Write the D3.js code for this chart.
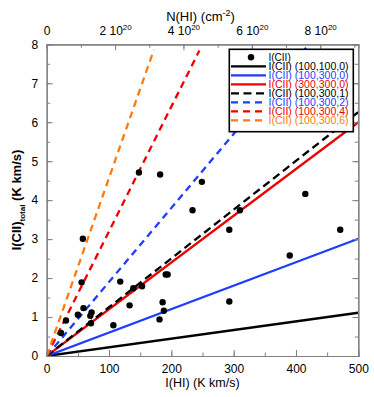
<!DOCTYPE html>
<html><head><meta charset="utf-8">
<script src="https://cdn.jsdelivr.net/npm/d3@7"></script>
<style>
html,body{margin:0;padding:0;background:#fff;}
text{font-family:"Liberation Sans",Arial,Helvetica,sans-serif;}
</style></head>
<body><svg id="c" width="374" height="397"></svg>
<script>
// ---- data ----
const obsIHI  = [23,31,50,56,58,59,70,72,71,107,118,133,139,153,148,182,181,186,188,191,194,234,249,293,293,310,390,415,471];
const obsICII = [0.59,0.91,1.06,1.89,3.01,1.23,1.03,1.12,0.84,0.79,1.91,1.30,1.74,1.79,4.71,4.66,0.94,1.38,1.16,2.09,2.09,3.74,4.47,3.24,1.40,3.74,2.58,4.16,3.24];

const modelLabels = ["(100,100,0)","(100,300,0)","(300,300,0)","(100,300,1)","(100,300,2)","(100,300,4)","(100,300,6)"];
const modelIHI  = [[0,500],[0,500],[0,500],[0,500],[0,500],[0,245],[0,172]];
const modelICII = [[0,1.11],[0,3.01],[0,6.0],[0,6.26],[0,9.5],[0,7.84],[0,7.86]];

const xTicks = [0,100,200,300,400,500];
const yTicks = [0,1,2,3,4,5,6,7,8];
const topTicks = [0,2e20,4e20,6e20,8e20];
const NHIperK = 1.823e18;

// ---- styles ----
const modelColor = ["#000","#1f3cff","#ee0000","#000","#1f3cff","#ee0000","#ff7b10"];
const modelDash  = [null,null,null,"8,4.5","7,5","7,5","7,5"];
const textColor  = ["#000","#1f3cff","#ee0000","#000","#1f3cff","#ee0000","#ff7b10"];

const svg = d3.select("#c");
const L=46.7, R=358.3, T=44.3, B=356;
const x = d3.scaleLinear().domain([0,500]).range([L,R]);
const y = d3.scaleLinear().domain([0,8]).range([B,T]);
const xTop = d3.scaleLinear().domain([0,500*NHIperK]).range([L,R]);

svg.append("clipPath").attr("id","pc").append("rect").attr("x",L).attr("y",T).attr("width",R-L).attr("height",B-T);
const plot = svg.append("g").attr("clip-path","url(#pc)");

const line = d3.line().x(d=>x(d[0])).y(d=>y(d[1]));
modelLabels.forEach((lab,i)=>{
  const pts = modelIHI[i].map((v,j)=>[v,modelICII[i][j]]);
  plot.append("path").attr("d",line(pts)).attr("fill","none")
    .attr("stroke",modelColor[i]).attr("stroke-width",2.3)
    .attr("stroke-dasharray",modelDash[i]);
});

plot.selectAll("circle.o").data(obsIHI.map((v,i)=>[v,obsICII[i]])).enter().append("circle")
  .attr("cx",d=>x(d[0])).attr("cy",d=>y(d[1])).attr("r",3.2).attr("fill","#000");

const axCol="#808080";
function styleAx(g){ g.select(".domain").attr("stroke",axCol).attr("stroke-width",1.2); g.selectAll(".tick line").attr("stroke",axCol).attr("stroke-width",1); g.selectAll("text").attr("font-size",12).attr("fill","#000"); }

const xMinor = d3.range(0,501,50), yMinor = d3.range(0,8.01,0.5), topMinor = d3.range(0,9.01e20,1e20);

svg.append("g").attr("transform",`translate(0,${B})`).call(d3.axisBottom(x).tickValues(xMinor).tickSize(-3.5).tickFormat("")).call(styleAx);
svg.append("g").attr("transform",`translate(0,${B})`).call(d3.axisBottom(x).tickValues(xTicks).tickSize(-6).tickSizeOuter(0).tickPadding(8)).call(styleAx);
svg.append("g").attr("transform",`translate(0,${T})`).call(d3.axisTop(xTop).tickValues(topMinor).tickSize(-3.5).tickFormat("")).call(styleAx);
const gt = svg.append("g").attr("transform",`translate(0,${T})`).call(d3.axisTop(xTop).tickValues(topTicks).tickSize(-6).tickSizeOuter(0).tickPadding(10).tickFormat("")).call(styleAx);
gt.selectAll(".tick").each(function(d){
  const t = d3.select(this).append("text").attr("y",-9).attr("text-anchor","middle").attr("font-size",12).attr("fill","#000");
  if(d===0){ t.text("0"); }
  else { t.append("tspan").text((d/1e20)+" 10"); t.append("tspan").attr("dy",-5).attr("font-size",8).text("20"); }
});
svg.append("g").attr("transform",`translate(${L},0)`).call(d3.axisLeft(y).tickValues(yMinor).tickSize(-3.5).tickFormat("")).call(styleAx);
svg.append("g").attr("transform",`translate(${L},0)`).call(d3.axisLeft(y).tickValues(yTicks).tickSize(-6).tickSizeOuter(0).tickPadding(8.5)).call(styleAx);
svg.append("g").attr("transform",`translate(${R},0)`).call(d3.axisRight(y).tickValues(yMinor).tickSize(-3.5).tickFormat("")).call(styleAx);
svg.append("g").attr("transform",`translate(${R},0)`).call(d3.axisRight(y).tickValues(yTicks).tickSize(-6).tickFormat("")).call(styleAx);

svg.append("text").attr("x",(L+R)/2).attr("y",387).attr("text-anchor","middle").attr("font-size",12.5).text("I(HI) (K km/s)");
const tt = svg.append("text").attr("x",(L+R)/2-2).attr("y",21).attr("text-anchor","middle").attr("font-size",13);
tt.append("tspan").text("N(HI) (cm");
tt.append("tspan").attr("dy",-5).attr("font-size",9).text("-2");
tt.append("tspan").attr("dy",5).text(")");
const yt = svg.append("text").attr("transform",`translate(21,200) rotate(-90)`).attr("text-anchor","middle").attr("font-size",13).attr("font-weight","bold");
yt.append("tspan").text("I(CII)");
yt.append("tspan").attr("dy",4).attr("font-size",8).text("total");
yt.append("tspan").attr("dy",-4).text(" (K km/s)");

const lg = svg.append("g");
lg.append("rect").attr("x",229.3).attr("y",49.3).attr("width",124).attr("height",82.4).attr("fill","#fff").attr("stroke","#000").attr("stroke-width",1.6);
const rowY = i => 57.3 + i*9.0;
lg.append("circle").attr("cx",251).attr("cy",rowY(0)).attr("r",3.2).attr("fill","#000");
lg.append("text").attr("x",268.5).attr("y",rowY(0)+3.6).attr("font-size",10).text("I(CII)");
modelLabels.forEach((lab,i)=>{
  const yy = rowY(i+1);
  lg.append("line").attr("x1",231).attr("x2",266).attr("y1",yy).attr("y2",yy)
    .attr("stroke",modelColor[i]).attr("stroke-width",2.3).attr("stroke-dasharray",modelDash[i]);
  lg.append("text").attr("x",268.5).attr("y",yy+3.6).attr("font-size",10).attr("textLength",80).attr("lengthAdjust","spacingAndGlyphs").attr("fill",textColor[i]).text("I(CII) "+lab);
});
</script></body></html>
